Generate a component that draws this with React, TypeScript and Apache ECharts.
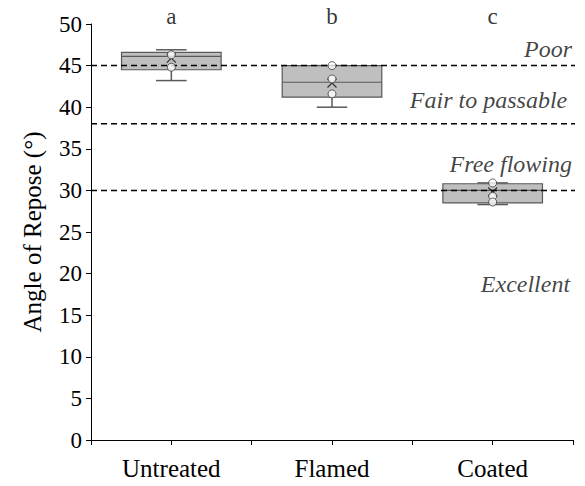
import React, { useEffect, useRef } from "react";
import * as echarts from "echarts";

const categories = ["Untreated", "Flamed", "Coated"];
const minValues = [43.2, 40.0, 28.3];
const q1Values = [44.5, 41.2, 28.5];
const medianValues = [46.1, 43.0, 30.0];
const q3Values = [46.6, 45.0, 30.8];
const maxValues = [46.9, 45.0, 30.9];
const meanValues = [45.9, 42.9, 29.8];
const pointValues = [
  [46.3, 44.8],
  [45.0, 43.4, 41.6],
  [30.9, 29.3, 28.6],
];
const groupLetters = ["a", "b", "c"];
const thresholds = [45, 38, 30];
const regionLabels = ["Poor", "Fair to passable", "Free flowing", "Excellent"];
const regionLabelY = [47.0, 40.9, 33.2, 18.8];
const regionLabelX = [0.998, 0.988, 0.998, 0.994];
const yTicks = { min: 0, max: 50, interval: 5 };

const FONT = "'Liberation Serif', 'Times New Roman', serif";

export default function App() {
  const ref = useRef<HTMLDivElement>(null);
  useEffect(() => {
    if (!ref.current) return;
    const chart = echarts.init(ref.current, null, { renderer: "svg" });
    const boxData = categories.map((_, i) => [
      i,
      minValues[i],
      q1Values[i],
      medianValues[i],
      q3Values[i],
      maxValues[i],
      meanValues[i],
    ]);
    const scatterData: number[][] = [];
    pointValues.forEach((arr, i) => arr.forEach((v) => scatterData.push([i, v])));

    const option: any = {
      animation: false,
      grid: { left: 91, right: 12, top: 24, bottom: 46 },
      xAxis: [
        {
          type: "category",
          data: categories,
          boundaryGap: true,
          axisLine: { show: true, lineStyle: { color: "#000", width: 1 } },
          axisTick: { show: true, length: 5, lineStyle: { color: "#000" } },
          axisLabel: { color: "#000", fontFamily: FONT, fontSize: 25, margin: 16 },
          splitLine: { show: false },
        },
        {
          type: "category",
          data: categories,
          position: "bottom",
          boundaryGap: true,
          axisLine: { show: false },
          axisTick: { show: true, alignWithLabel: true, length: 5, lineStyle: { color: "#000" } },
          axisLabel: { show: false },
          splitLine: { show: false },
        },
        { type: "value", min: 0, max: 1, show: false },
      ],
      yAxis: {
        type: "value",
        min: yTicks.min,
        max: yTicks.max,
        interval: yTicks.interval,
        name: "Angle of Repose (°)",
        nameLocation: "middle",
        nameGap: 46,
        nameTextStyle: { color: "#000", fontFamily: FONT, fontSize: 25 },
        axisLine: { show: true, lineStyle: { color: "#000", width: 1 } },
        axisTick: { show: true, length: 5, lineStyle: { color: "#000" } },
        axisLabel: { color: "#000", fontFamily: FONT, fontSize: 23, margin: 9 },
        splitLine: { show: false },
      },
      series: [
        {
          type: "custom",
          xAxisIndex: 0,
          z: 2,
          data: boxData,
          encode: { x: 0, y: [1, 2, 3, 4, 5, 6] },
          renderItem: (params: any, api: any) => {
            const idx = api.value(0);
            const bw = api.size([1, 0])[0] * 0.62;
            const cw = api.size([1, 0])[0] * 0.19;
            const pMin = api.coord([idx, api.value(1)]);
            const pQ1 = api.coord([idx, api.value(2)]);
            const pMed = api.coord([idx, api.value(3)]);
            const pQ3 = api.coord([idx, api.value(4)]);
            const pMax = api.coord([idx, api.value(5)]);
            const pMean = api.coord([idx, api.value(6)]);
            const cx = pMed[0];
            const stroke = { stroke: "#595959", lineWidth: 1.5 };
            const m = 4.5;
            return {
              type: "group",
              children: [
                { type: "line", shape: { x1: cx, y1: pQ3[1], x2: cx, y2: pMax[1] }, style: stroke },
                { type: "line", shape: { x1: cx - cw / 2, y1: pMax[1], x2: cx + cw / 2, y2: pMax[1] }, style: stroke },
                { type: "line", shape: { x1: cx, y1: pQ1[1], x2: cx, y2: pMin[1] }, style: stroke },
                { type: "line", shape: { x1: cx - cw / 2, y1: pMin[1], x2: cx + cw / 2, y2: pMin[1] }, style: stroke },
                {
                  type: "rect",
                  shape: { x: cx - bw / 2, y: pQ3[1], width: bw, height: pQ1[1] - pQ3[1] },
                  style: { fill: "#BFBFBF", stroke: "#595959", lineWidth: 1.2 },
                },
                { type: "line", shape: { x1: cx - bw / 2, y1: pMed[1], x2: cx + bw / 2, y2: pMed[1] }, style: { stroke: "#595959", lineWidth: 1.2 } },
                { type: "line", shape: { x1: cx - m, y1: pMean[1] - m, x2: cx + m, y2: pMean[1] + m }, style: { stroke: "#333", lineWidth: 1.3 } },
                { type: "line", shape: { x1: cx - m, y1: pMean[1] + m, x2: cx + m, y2: pMean[1] - m }, style: { stroke: "#333", lineWidth: 1.3 } },
              ],
            };
          },
        },
        ...thresholds.map((t) => ({
          type: "line",
          xAxisIndex: 2,
          z: 3,
          clip: false,
          symbol: "none",
          silent: true,
          data: [
            [0, t],
            [1.026, t],
          ],
          lineStyle: { color: "#000", width: 1.5, type: [6, 4] },
        })),
        {
          type: "scatter",
          xAxisIndex: 0,
          z: 4,
          data: scatterData,
          symbol: "circle",
          symbolSize: 8,
          itemStyle: { color: "#fff", borderColor: "#404040", borderWidth: 1 },
        },
        {
          type: "scatter",
          xAxisIndex: 0,
          z: 5,
          clip: false,
          symbolSize: 0,
          data: groupLetters.map((l, i) => ({ name: l, value: [i, 50.9] })),
          label: {
            show: true,
            position: "inside",
            formatter: "{b}",
            color: "#000",
            fontFamily: FONT,
            fontSize: 23,
          },
        },
        {
          type: "scatter",
          xAxisIndex: 2,
          z: 5,
          clip: false,
          symbolSize: 0,
          data: regionLabels.map((l, i) => ({ name: l, value: [regionLabelX[i], regionLabelY[i]] })),
          label: {
            show: true,
            position: "left",
            distance: 0,
            formatter: "{b}",
            color: "#111",
            fontFamily: FONT,
            fontStyle: "italic",
            fontSize: 24,
          },
        },
      ],
    };
    chart.setOption(option);
    return () => chart.dispose();
  }, []);
  return <div ref={ref} style={{ width: 585, height: 486, position: "absolute", left: 0, top: 0 }} />;
}
